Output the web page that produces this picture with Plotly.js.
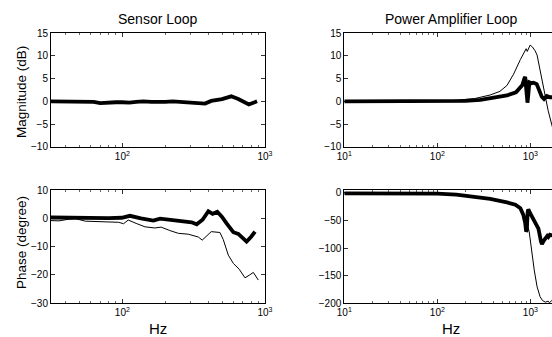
<!DOCTYPE html>
<html>
<head>
<meta charset="utf-8">
<script src="https://cdn.plot.ly/plotly-3.0.1.min.js"></script>
<style>
html,body{margin:0;padding:0;overflow:hidden;background:#fff;width:552px;height:337px;}
#chart{width:600px;height:337px;}
</style>
</head>
<body>
<div id="chart"></div>
<script>
// ---- Sensor loop data ----
var sensorMagHz = [31.6, 35, 40, 45, 50, 56, 63, 70, 80, 90, 100, 112, 125, 140, 160, 180, 200, 225, 250, 280, 315, 355, 380, 420, 500, 580, 650, 770, 880];
var sensorMag   = [0, 0, -0.1, -0.2, -0.2, -0.2, -0.1, -0.4, -0.2, -0.2, -0.2, -0.3, -0.1, 0, -0.1, -0.2, -0.1, 0, -0.1, -0.2, -0.2, -0.3, -0.5, 0.1, 0.5, 1.1, 0.5, -0.7, 0];

var sensorPhThickHz = [31.6, 40, 50, 63, 80, 99, 113, 135, 165, 184, 220, 260, 306, 332, 365, 401, 430, 463, 500, 538, 600, 650, 700, 743, 800, 851];
var sensorPhThick   = [0.3, 0.2, 0.1, 0.1, 0.1, 0.2, 0.9, 0, -0.8, -0.1, -0.6, -1.1, -1.4, -2.1, -0.5, 2.5, 1.6, 2.3, 0.5, -1.8, -4.9, -5.5, -6.8, -8.2, -6.5, -4.7];

var sensorPhThinHz = [31.6, 36, 41, 47, 55, 70, 86, 94, 102, 110, 125, 144, 169, 187, 215, 247, 290, 341, 363, 401, 420, 483, 510, 553, 600, 660, 724, 780, 828, 898];
var sensorPhThin   = [-0.8, -0.9, -0.4, -0.1, -1.0, -1.1, -1.3, -1.4, -1.9, -0.6, -1.8, -3.0, -3.4, -3.1, -4.3, -5.3, -5.6, -6.6, -7.7, -5.4, -4.7, -5.0, -7.5, -13, -15.9, -18, -21, -20, -19.1, -21.8];

// ---- Power amplifier loop data ----
var ampMagThinHz = [10, 50, 100, 150, 250, 370, 470, 560, 660, 780, 850, 900, 925, 950, 995, 1050, 1120, 1180, 1270, 1350, 1440, 1550, 1700, 1800];
var ampMagThin   = [0, 0, 0.05, 0.2, 0.6, 1.4, 2.2, 3.5, 6.0, 9.2, 10.8, 11.6, 11.0, 11.5, 12.4, 12.0, 11.2, 10.2, 7.0, 4.0, 1.0, -2.0, -5.2, -7];

var ampMagThickHz = [10, 100, 200, 290, 470, 560, 700, 775, 820, 860, 880, 895, 910, 930, 950, 975, 1030, 1080, 1170, 1250, 1325, 1400, 1500, 1630, 1750];
var ampMagThick   = [0, 0, 0.1, 0.3, 1.0, 1.3, 2.0, 3.0, 3.6, 5.0, 5.4, 3.5, 0.5, -0.3, 1.5, 4.2, 4.0, 4.1, 3.8, 2.5, 1.0, 0.5, 1.2, 0.9, 0.9];

var ampPhThinHz = [10, 20, 50, 100, 150, 200, 300, 400, 500, 600, 700, 780, 850, 920, 970, 1030, 1100, 1180, 1270, 1350, 1450, 1550, 1600, 1700, 1900];
var ampPhThin   = [-1, -1, -1.5, -2, -3, -5, -9, -13, -16, -19, -23, -30, -40, -55, -70, -105, -140, -170, -188, -195, -198, -196, -199, -195, -197];

var ampPhThickHz = [10, 20, 50, 100, 160, 250, 370, 560, 690, 780, 840, 880, 900, 915, 935, 950, 1000, 1040, 1120, 1220, 1300, 1330, 1400, 1450, 1520, 1560, 1620, 1700, 1800];
var ampPhThick   = [-1, -1, -1, -1.5, -3.3, -6.5, -11, -17.5, -21.5, -28, -40, -55, -70, -68, -35, -30, -38, -44, -53, -65, -88, -93, -86, -82, -78, -80, -76, -77, -76];

var xTickValsL = [100, 1000];
var xTickTextL = ['10<sup>2</sup>', '10<sup>3</sup>'];
var xTickValsR = [10, 100, 1000];
var xTickTextR = ['10<sup>1</sup>', '10<sup>2</sup>', '10<sup>3</sup>'];
var magTicks = [-10, -5, 0, 5, 10, 15];
var phTicksL = [-30, -20, -10, 0, 10];
var phTicksR = [-200, -150, -100, -50, 0];

var minorVals = [];
[1, 10, 100, 1000].forEach(function(d){ for (var k = 2; k <= 9; k++) minorVals.push(k*d); });

var W = 600, H = 337;
function fx(a, b){ return [a/W, b/W]; }
function fy(top, bot){ return [1 - bot/H, 1 - top/H]; }

var thick = {color:'#000', width:3.8};
var thin = {color:'#000', width:1};

var traces = [
  {x: sensorMagHz, y: sensorMag, xaxis:'x', yaxis:'y', mode:'lines', line: thick},
  {x: ampMagThinHz, y: ampMagThin, xaxis:'x2', yaxis:'y2', mode:'lines', line: thin},
  {x: ampMagThickHz, y: ampMagThick, xaxis:'x2', yaxis:'y2', mode:'lines', line: thick},
  {x: sensorPhThinHz, y: sensorPhThin, xaxis:'x3', yaxis:'y3', mode:'lines', line: thin},
  {x: sensorPhThickHz, y: sensorPhThick, xaxis:'x3', yaxis:'y3', mode:'lines', line: thick},
  {x: ampPhThinHz, y: ampPhThin, xaxis:'x4', yaxis:'y4', mode:'lines', line: thin},
  {x: ampPhThickHz, y: ampPhThick, xaxis:'x4', yaxis:'y4', mode:'lines', line: thick}
];

var FF = 'Liberation Sans, Arial, sans-serif';
var tickFont = {family: FF, size:10, color:'#000'};
function xax(dom, anchor, range, vals, text){
  return {domain: dom, anchor: anchor, type:'log', range: range, tickmode:'array', tickvals: vals, ticktext: text,
    ticks:'inside', ticklen:4, tickwidth:0.8, tickcolor:'#000', showline:true, linecolor:'#000', linewidth:1, mirror:'ticks',
    showgrid:false, zeroline:false, tickfont: tickFont,
    minor:{tickmode:'array', tickvals: minorVals, ticks:'inside', ticklen:2, tickwidth:0.6, tickcolor:'#000', showgrid:false}};
}
function yax(dom, anchor, range, vals){
  return {domain: dom, anchor: anchor, range: range, tickmode:'array', tickvals: vals,
    ticks:'inside', ticklen:4, tickwidth:0.8, tickcolor:'#000', showline:true, linecolor:'#000', linewidth:1, mirror:'ticks',
    showgrid:false, zeroline:false, tickfont: tickFont};
}

var titleFont = {family: FF, size:14, color:'#000'};
var labelFont = {family: FF, size:13.5, color:'#000'};
var hzFont = {family: FF, size:15, color:'#000'};
var layout = {
  width: W, height: H, margin:{l:0, r:0, t:0, b:0}, showlegend:false,
  paper_bgcolor:'#fff', plot_bgcolor:'#fff',
  xaxis:  xax(fx(51, 265), 'y', [1.5, 3], xTickValsL, xTickTextL),
  yaxis:  yax(fy(33.3, 146.7), 'x', [-10, 15], magTicks),
  xaxis2: xax(fx(344.3, 558.4), 'y2', [1, Math.log10(2000)], xTickValsR, xTickTextR),
  yaxis2: yax(fy(33.3, 146.7), 'x2', [-10, 15], magTicks),
  xaxis3: xax(fx(51, 265), 'y3', [1.5, 3], xTickValsL, xTickTextL),
  yaxis3: yax(fy(190, 303.3), 'x3', [-30, 10], phTicksL),
  xaxis4: xax(fx(344.3, 558.4), 'y4', [1, Math.log10(2000)], xTickValsR, xTickTextR),
  yaxis4: yax(fy(190, 303.3), 'x4', [-200, 5], phTicksR),
  annotations: [
    {text:'Sensor Loop', x:158/W, y:1-19/H, xref:'paper', yref:'paper', showarrow:false, font: titleFont, xanchor:'center', yanchor:'middle'},
    {text:'Power Amplifier Loop', x:451/W, y:1-19/H, xref:'paper', yref:'paper', showarrow:false, font: titleFont, xanchor:'center', yanchor:'middle'},
    {text:'Magnitude (dB)', x:21/W, y:1-92/H, xref:'paper', yref:'paper', showarrow:false, font: labelFont, textangle:-90, xanchor:'center', yanchor:'middle'},
    {text:'Phase (degree)', x:21/W, y:1-243/H, xref:'paper', yref:'paper', showarrow:false, font: labelFont, textangle:-90, xanchor:'center', yanchor:'middle'},
    {text:'Hz', x:158/W, y:1-328/H, xref:'paper', yref:'paper', showarrow:false, font: hzFont, xanchor:'center', yanchor:'middle'},
    {text:'Hz', x:451/W, y:1-328/H, xref:'paper', yref:'paper', showarrow:false, font: hzFont, xanchor:'center', yanchor:'middle'}
  ]
};

Plotly.newPlot('chart', traces, layout, {displayModeBar:false, staticPlot:true});
</script>
</body>
</html>
